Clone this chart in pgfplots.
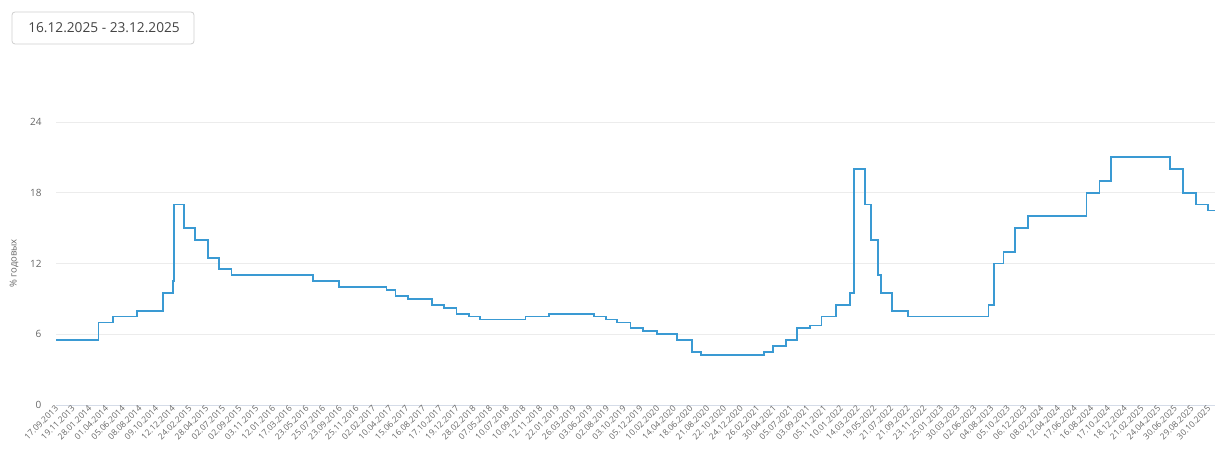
\documentclass[border=0pt]{standalone}
\usepackage{fontspec}
\setmainfont{Open Sans}
\usepackage{pgfplots}
\pgfplotsset{compat=1.18}
\definecolor{lineblue}{HTML}{3A9AD3}
\definecolor{labelgray}{HTML}{666666}
\definecolor{gridgray}{HTML}{ECECEC}
\definecolor{axisblue}{HTML}{D5DCE8}
\definecolor{boxgray}{HTML}{CFCFCF}
\definecolor{boxtext}{HTML}{444444}

\begin{document}
\begin{tikzpicture}
\useasboundingbox (0pt,0pt) rectangle (1215pt,457pt);
% date range box
\draw[boxgray, line width=0.8pt, rounded corners=3pt, fill=white] (12pt,413pt) rectangle (194pt,445pt);
\node[text=boxtext, font=\fontsize{13.7}{16}\selectfont] at (104pt,429pt) {16.12.2025 - 23.12.2025};
\begin{axis}[
    at={(56pt,52pt)}, anchor=south west,
    scale only axis,
    width=1159pt, height=283pt,
    xmin=0, xmax=69.4,
    ymin=0, ymax=24,
    ytick={0,6,12,18,24},
    xtick={0,...,69},
    xticklabels={17.09.2013,19.11.2013,28.01.2014,01.04.2014,05.06.2014,08.08.2014,09.10.2014,12.12.2014,24.02.2015,28.04.2015,02.07.2015,02.09.2015,03.11.2015,12.01.2016,17.03.2016,23.05.2016,25.07.2016,23.09.2016,25.11.2016,02.02.2017,10.04.2017,15.06.2017,16.08.2017,17.10.2017,19.12.2017,28.02.2018,07.05.2018,10.07.2018,10.09.2018,12.11.2018,22.01.2019,26.03.2019,03.06.2019,02.08.2019,03.10.2019,05.12.2019,10.02.2020,14.04.2020,18.06.2020,21.08.2020,22.10.2020,24.12.2020,26.02.2021,30.04.2021,05.07.2021,03.09.2021,05.11.2021,10.01.2022,14.03.2022,19.05.2022,21.07.2022,21.09.2022,23.11.2022,25.01.2023,30.03.2023,02.06.2023,04.08.2023,05.10.2023,06.12.2023,08.02.2024,12.04.2024,17.06.2024,16.08.2024,17.10.2024,18.12.2024,21.02.2025,24.04.2025,30.06.2025,29.08.2025,30.10.2025},
    axis x line*=bottom, axis y line*=left,
    x axis line style={draw=axisblue, line width=0.8pt},
    y axis line style={draw=none},
    major tick length=0pt,
    tick style={draw=none},
    ymajorgrids=true,
    grid style={gridgray, line width=0.8pt},
    /pgf/number format/assume math mode=true,
    yticklabel style={text=labelgray, font=\fontsize{10}{12}\selectfont, xshift=-11pt},
    xticklabel style={text=labelgray, font=\fontsize{8.5}{10}\selectfont, rotate=45, anchor=east, yshift=-2pt, inner sep=1pt},
    ylabel={\% годовых},
    ylabel style={at={(axis description cs:0,0.5)}, anchor=south, yshift=34pt, text=labelgray, font=\fontsize{9.5}{11}\selectfont},
    clip=false,
]
\addplot[const plot, color=lineblue, line width=1.8pt] coordinates {
(0,5.5) (2.54,7.0) (3.42,7.5) (4.83,8.0) (6.42,9.5) (7.00,10.5) (7.05,17.0)
(7.66,15.0) (8.30,14.0) (9.10,12.5) (9.75,11.5) (10.51,11.0) (15.37,10.5)
(16.94,10.0) (19.79,9.75) (20.33,9.25) (21.06,9.0) (22.53,8.5) (23.21,8.25)
(23.98,7.75) (24.75,7.5) (25.38,7.25) (28.11,7.5) (29.52,7.75) (32.23,7.5)
(32.93,7.25) (33.61,7.0) (34.40,6.5) (35.17,6.25) (36.00,6.0) (37.20,5.5)
(38.06,4.5) (38.61,4.25) (42.38,4.5) (42.94,5.0) (43.70,5.5) (44.35,6.5)
(45.16,6.75) (45.83,7.5) (46.72,8.5) (47.56,9.5) (47.80,20.0) (48.43,17.0)
(48.80,14.0) (49.20,11.0) (49.42,9.5) (50.06,8.0) (51.00,7.5) (55.83,8.5)
(56.18,12.0) (56.73,13.0) (57.40,15.0) (58.22,16.0) (61.70,18.0) (62.48,19.0)
(63.18,21.0) (66.70,20.0) (67.47,18.0) (68.27,17.0) (68.97,16.5) (69.40,16.5)
};
\end{axis}
\end{tikzpicture}
\end{document}
